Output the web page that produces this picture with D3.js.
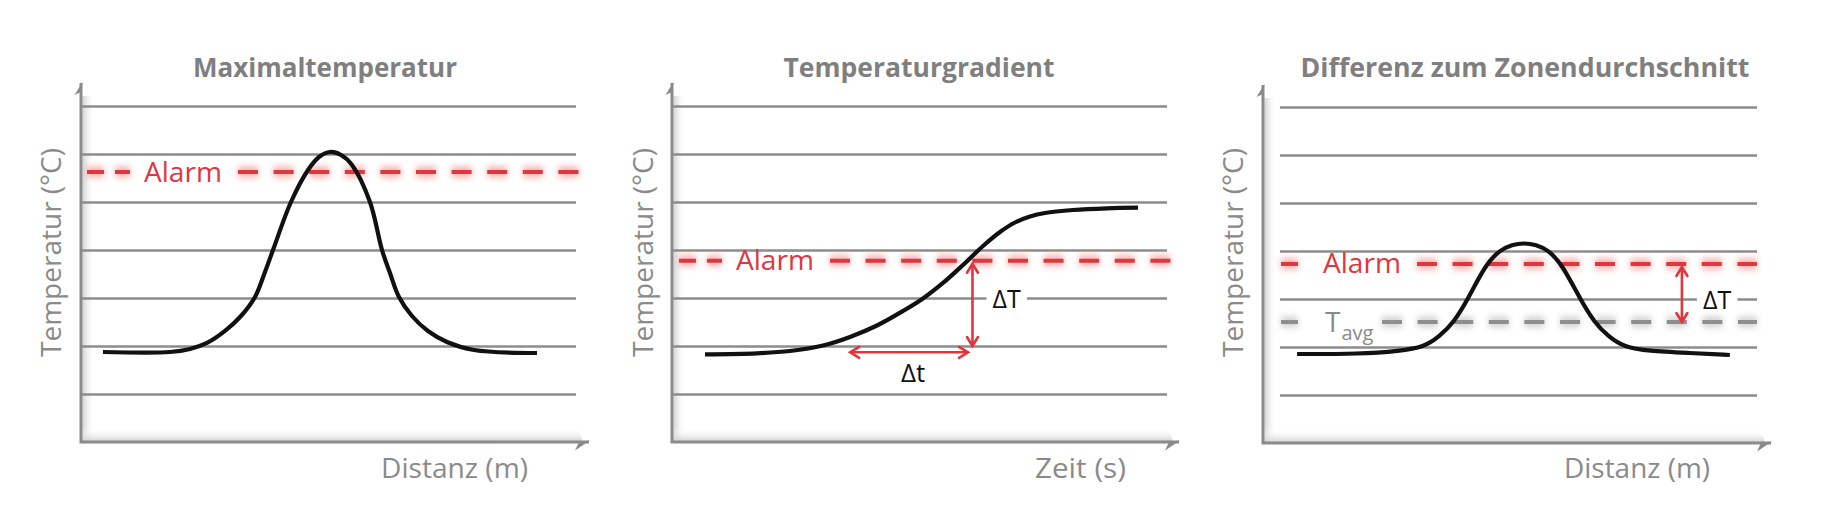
<!DOCTYPE html>
<html><head><meta charset="utf-8">
<script src="https://cdn.jsdelivr.net/npm/d3@7"></script>
<style>html,body{margin:0;padding:0;background:#fff;} svg{display:block}</style>
</head><body><svg id="c" width="1821" height="525"></svg>
<script>
// ---------------- data ----------------
const titles = ["Maximaltemperatur", "Temperaturgradient", "Differenz zum Zonendurchschnitt"];
const xLabels = ["Distanz (m)", "Zeit (s)", "Distanz (m)"];
const yLabel = "Temperatur (°C)";
const gridLevels = [1, 2, 3, 4, 5, 6, 7];
const alarmText = "Alarm";

// Panel 1: Maximaltemperatur
const maxTempX = [4.44, 17.98, 22.02, 25.45, 29.09, 32.32, 35.15, 37.17, 38.79, 42.42, 45.86, 48.08, 50.30, 52.53, 54.75, 58.38, 60.81, 62.42, 64.24, 66.87, 70.10, 73.94, 79.39, 92.12];
const maxTempY = [1.875, 1.875, 1.938, 2.063, 2.313, 2.625, 3.021, 3.542, 4.0, 5.0, 5.667, 5.938, 6.042, 5.979, 5.771, 5.0, 4.0, 3.521, 3.021, 2.625, 2.313, 2.083, 1.917, 1.854];
const maxTempAlarm = 5.625;

// Panel 2: Temperaturgradient
const gradX = [6.67, 17.17, 23.84, 30.51, 35.96, 41.41, 46.67, 50.71, 54.75, 58.79, 62.83, 66.26, 69.29, 72.32, 75.35, 81.01, 87.88, 94.14];
const gradY = [1.827, 1.848, 1.896, 2.010, 2.188, 2.427, 2.729, 2.990, 3.313, 3.688, 4.083, 4.375, 4.573, 4.698, 4.771, 4.833, 4.869, 4.881];
const gradAlarm = 3.777;
const gradDT = { x: 60.7, from: 3.777, to: 2.0 };     // ΔT arrow
const gradDt = { y: 1.869, from: 36.0, to: 59.8 };    // Δt arrow

// Panel 3: Differenz zum Zonendurchschnitt
const diffX = [6.9, 19.6, 27.7, 32.6, 35.6, 38.7, 41.5, 45.1, 48.0, 50.4, 52.8, 55.3, 57.7, 60.5, 64.2, 67.0, 70.0, 73.1, 77.9, 86.4, 94.5];
const diffY = [1.854, 1.854, 1.917, 2.0, 2.208, 2.521, 3.0, 3.729, 4.021, 4.135, 4.167, 4.135, 4.021, 3.729, 3.0, 2.521, 2.208, 2.0, 1.917, 1.875, 1.833];
const diffAlarm = 3.73;
const diffAvg = 2.52;
const diffDT = { x: 84.8, from: 3.73, to: 2.52 };

// ---------------- layout ----------------
const FONT = "'Open Sans', 'Noto Sans', sans-serif";
const GRAY = "#8a8a8a", RED = "#e0363d";
const layout = [
  { x0: 81,   x1: 576,  gx0: 81,   bottom: 442, tip: 83, arrowX: 589,  titleX: 325,  titleW: 264,
    xLabX: 381,  xLabW: 147, yLabX: 61,   alarmStart: 87,   alarmEnd: 580,  alarmLabX: 144, curve: "cr" },
  { x0: 672,  x1: 1167, gx0: 672,  bottom: 442, tip: 83, arrowX: 1179, titleX: 919,  titleW: 271,
    xLabX: 1035, xLabW: 91,  yLabX: 653,  alarmStart: 679,  alarmEnd: 1171, alarmLabX: 736, curve: "cr" },
  { x0: 1263, x1: 1757, gx0: 1280, bottom: 443, tip: 85, arrowX: 1771, titleX: 1525, titleW: 449,
    xLabX: 1564, xLabW: 146, yLabX: 1243, alarmStart: 1281, alarmEnd: 1757, alarmLabX: 1323, curve: "basis" }
];

const svg = d3.select("#c");
const defs = svg.append("defs");
const gY = defs.append("linearGradient").attr("id", "shY").attr("x1", 0).attr("x2", 1).attr("y1", 0).attr("y2", 0);
gY.append("stop").attr("offset", 0).attr("stop-color", "#d2d2d2");
gY.append("stop").attr("offset", 1).attr("stop-color", "#ffffff").attr("stop-opacity", 0);
const gX = defs.append("linearGradient").attr("id", "shX").attr("x1", 0).attr("x2", 0).attr("y1", 0).attr("y2", 1);
gX.append("stop").attr("offset", 0).attr("stop-color", "#ffffff").attr("stop-opacity", 0);
gX.append("stop").attr("offset", 1).attr("stop-color", "#cfcfcf");
defs.append("filter").attr("id", "glow").attr("filterUnits", "userSpaceOnUse")
  .attr("x", 0).attr("y", 0).attr("width", 1821).attr("height", 525)
  .append("feGaussianBlur").attr("stdDeviation", 3.2);

function dashedLine(g, xa, xb, yv, color, glowColor, dash) {
  if (xb <= xa) return;
  g.append("line").attr("x1", xa).attr("x2", xb).attr("y1", yv).attr("y2", yv)
    .attr("stroke", glowColor).attr("stroke-width", 11).attr("stroke-dasharray", dash)
    .attr("opacity", 0.75).attr("filter", "url(#glow)");
  g.append("line").attr("x1", xa).attr("x2", xb).attr("y1", yv).attr("y2", yv)
    .attr("stroke", color).attr("stroke-width", 4).attr("stroke-dasharray", dash);
}

function refLine(g, cfg, yv, labelW, color, glowColor) {
  const leftEnd = cfg.alarmLabX - 14;
  const rightStart = cfg.alarmLabX + labelW + 16;
  dashedLine(g, cfg.alarmStart, leftEnd, yv, color, glowColor, "17 11");
  dashedLine(g, rightStart, cfg.alarmEnd, yv, color, glowColor, "20 15.6");
}

function arrow(g, xa, ya, xb, yb) {
  const ang = Math.atan2(yb - ya, xb - xa);
  const L = 9, W = 5.5;
  g.append("line").attr("x1", xa).attr("y1", ya).attr("x2", xb).attr("y2", yb)
    .attr("stroke", RED).attr("stroke-width", 2.6);
  [[xa, ya, ang], [xb, yb, ang + Math.PI]].forEach(([px, py, a]) => {
    const c = Math.cos(a), s = Math.sin(a);
    const p1 = [px + L * c - W * s, py + L * s + W * c];
    const p2 = [px + L * c + W * s, py + L * s - W * c];
    g.append("path").attr("d", `M${p1[0]},${p1[1]}L${px},${py}L${p2[0]},${p2[1]}`)
      .attr("fill", "none").attr("stroke", RED).attr("stroke-width", 2.6)
      .attr("stroke-linejoin", "miter").attr("stroke-linecap", "round");
  });
}

function deltaLabel(g, txt, xv, yBase, anchor, size, knock) {
  const t = g.append("text").attr("x", xv).attr("y", yBase).attr("text-anchor", anchor)
    .attr("font-family", FONT).attr("font-size", size).attr("fill", "#111").text(txt);
  if (knock !== undefined) {
    const bb = t.node().getBBox();
    g.append("rect").attr("x", bb.x - 6).attr("y", knock - 4).attr("width", bb.width + 12)
      .attr("height", 8).attr("fill", "#fff");
    t.raise();
  }
  return t;
}

function panel(i) {
  const cfg = layout[i];
  const g = svg.append("g");
  const x = d3.scaleLinear().domain([0, 100]).range([cfg.x0, cfg.x1]);
  const y = d3.scaleLinear().domain([0, 7]).range([cfg.bottom, cfg.bottom - 336]);

  // 3D shading along axes
  g.append("rect").attr("x", cfg.x0 + 1.5).attr("y", cfg.tip + 13).attr("width", 12)
    .attr("height", cfg.bottom - cfg.tip - 13).attr("fill", "url(#shY)");
  g.append("path").attr("d", `M${cfg.x0},${cfg.bottom - 14}H${cfg.arrowX - 18}Q${cfg.arrowX - 9},${cfg.bottom - 14} ${cfg.arrowX - 6},${cfg.bottom}H${cfg.x0}Z`)
    .attr("fill", "url(#shX)");

  // gridlines
  const grid = d3.axisLeft(y).tickValues(gridLevels).tickSize(-(cfg.x1 - cfg.gx0)).tickFormat("");
  const gg = g.append("g").attr("transform", `translate(${cfg.gx0},0)`).call(grid);
  gg.select(".domain").remove();
  gg.selectAll("line").attr("stroke", "#8c8c8c").attr("stroke-width", 2.4);

  // axes
  g.append("path").attr("d", `M${cfg.x0},${cfg.tip}V${cfg.bottom}H${cfg.arrowX}`)
    .attr("fill", "none").attr("stroke", GRAY).attr("stroke-width", 3).attr("stroke-linejoin", "miter");
  g.append("path").attr("d", `M${cfg.x0 + 1.5},${cfg.tip - 1}L${cfg.x0 - 6.5},${cfg.tip + 12}L${cfg.x0},${cfg.tip + 9}Z`).attr("fill", GRAY);
  g.append("path").attr("d", `M${cfg.arrowX + 1},${cfg.bottom - 1.5}L${cfg.arrowX - 14},${cfg.bottom + 8.5}L${cfg.arrowX - 10},${cfg.bottom}Z`).attr("fill", GRAY);

  // titles and axis labels
  svg.append("text").attr("x", cfg.titleX).attr("y", 77).attr("text-anchor", "middle")
    .attr("font-family", FONT).attr("font-weight", 700).attr("font-size", 27.5).attr("fill", "#7f7f7f")
    .attr("textLength", cfg.titleW).attr("lengthAdjust", "spacingAndGlyphs").text(titles[i]);
  svg.append("text").attr("x", cfg.xLabX).attr("y", 478)
    .attr("font-family", FONT).attr("font-size", 27).attr("fill", GRAY)
    .attr("textLength", cfg.xLabW).attr("lengthAdjust", "spacingAndGlyphs").text(xLabels[i]);
  svg.append("text").attr("transform", `translate(${cfg.yLabX},252.5) rotate(-90)`)
    .attr("text-anchor", "middle").attr("font-family", FONT).attr("font-size", 27.5).attr("fill", GRAY)
    .attr("textLength", 209).attr("lengthAdjust", "spacingAndGlyphs").text(yLabel);

  return { g, x, y, cfg };
}

function alarmLabel(g, cfg, yv) {
  g.append("text").attr("x", cfg.alarmLabX).attr("y", yv + 9.5)
    .attr("font-family", FONT).attr("font-size", 27.5).attr("fill", RED)
    .attr("textLength", 78).attr("lengthAdjust", "spacingAndGlyphs").text(alarmText);
}

function curve(g, cfg, x, y, xs, ys) {
  const c = cfg.curve === "basis" ? d3.curveBasis : d3.curveCatmullRom.alpha(0.5);
  const ln = d3.line().x(d => x(d[0])).y(d => y(d[1])).curve(c);
  g.append("path").datum(xs.map((v, k) => [v, ys[k]])).attr("d", ln)
    .attr("fill", "none").attr("stroke", "#111").attr("stroke-width", 4.2);
}

// ---- Panel 1 ----
{
  const { g, x, y, cfg } = panel(0);
  refLine(g, cfg, y(maxTempAlarm), 78, RED, "#f19a9a");
  alarmLabel(g, cfg, y(maxTempAlarm));
  curve(g, cfg, x, y, maxTempX, maxTempY);
}
// ---- Panel 2 ----
{
  const { g, x, y, cfg } = panel(1);
  refLine(g, cfg, y(gradAlarm), 78, RED, "#f19a9a");
  alarmLabel(g, cfg, y(gradAlarm));
  deltaLabel(g, "ΔT", x(gradDT.x) + 20, y(3) + 9.5, "start", 25, y(3));
  curve(g, cfg, x, y, gradX, gradY);
  arrow(g, x(gradDT.x), y(gradDT.from) + 3, x(gradDT.x), y(gradDT.to));
  arrow(g, x(gradDt.from), y(gradDt.y), x(gradDt.to), y(gradDt.y));
  deltaLabel(g, "Δt", (x(gradDt.from) + x(gradDt.to)) / 2 + 4, y(gradDt.y) + 30, "middle", 26);
}
// ---- Panel 3 ----
{
  const { g, x, y, cfg } = panel(2);
  refLine(g, cfg, y(diffAvg), 43, "#8e8e8e", "#c4c4c4");
  const tl = g.append("text").attr("x", cfg.alarmLabX + 2).attr("y", y(diffAvg) + 10)
    .attr("font-family", FONT).attr("font-size", 28).attr("fill", GRAY);
  tl.append("tspan").text("T");
  tl.append("tspan").attr("dy", 8).attr("font-size", 20).attr("dx", 1).text("avg");
  refLine(g, cfg, y(diffAlarm), 78, RED, "#f19a9a");
  alarmLabel(g, cfg, y(diffAlarm));
  deltaLabel(g, "ΔT", x(diffDT.x) + 21, y(3) + 9.5, "start", 25, y(3));
  curve(g, cfg, x, y, diffX, diffY);
  arrow(g, x(diffDT.x), y(diffDT.from) + 3, x(diffDT.x), y(diffDT.to));
}
</script>
</body></html>
